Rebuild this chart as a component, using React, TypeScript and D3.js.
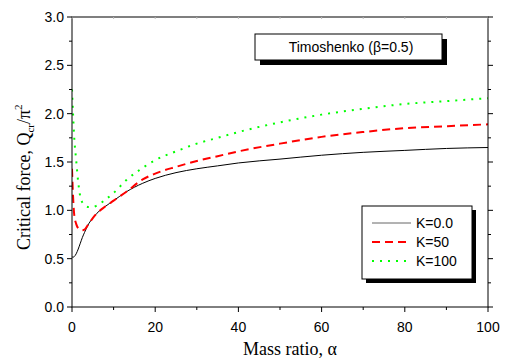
import React from "react";
import * as d3 from "d3";

// mass ratio samples
const alpha = [0, 0.25, 0.5, 1, 1.5, 2, 2.5, 3, 4, 5, 6, 8, 10, 13, 17, 20, 25, 30, 35, 40, 50, 60, 70, 80, 90, 100];

const k0 = [0.52, 0.515, 0.52, 0.55, 0.6, 0.66, 0.72, 0.77, 0.86, 0.92, 0.97, 1.04, 1.1, 1.19, 1.28, 1.33, 1.39, 1.43, 1.46, 1.49, 1.53, 1.57, 1.6, 1.62, 1.64, 1.65];
const k50 = [1.43, 1.15, 0.97, 0.86, 0.815, 0.8, 0.795, 0.8, 0.86, 0.92, 0.97, 1.04, 1.1, 1.19, 1.32, 1.38, 1.45, 1.51, 1.56, 1.61, 1.69, 1.76, 1.81, 1.85, 1.87, 1.89];
const k100 = [2.25, 2.0, 1.78, 1.52, 1.29, 1.14, 1.08, 1.05, 1.035, 1.035, 1.05, 1.11, 1.18, 1.31, 1.44, 1.52, 1.61, 1.69, 1.75, 1.81, 1.91, 1.99, 2.05, 2.1, 2.13, 2.16];

const seriesNames = ["K=0.0", "K=50", "K=100"];
const xTicks = [0, 20, 40, 60, 80, 100];
const yTicks = [0, 0.5, 1, 1.5, 2, 2.5, 3];

const styles = [
    { color: "#000000", dash: "none", width: 1 },
    { color: "#ff0000", dash: "8,5", width: 2 },
    { color: "#00ff00", dash: "2,6", width: 2 },
];

const App = () => {
    const left = 72, right = 488, top = 17, bottom = 307;
    const x = d3.scaleLinear().domain([0, 100]).range([left, right]);
    const y = d3.scaleLinear().domain([0, 3]).range([bottom, top]);

    const line = d3.line<number>()
        .x((_, i) => x(alpha[i]))
        .y(d => y(d))
        .curve(d3.curveMonotoneX);

    const series = [k0, k50, k100];
    const xMinor = d3.range(0, 101, 10);
    const yMinor = d3.range(0, 3.01, 0.25);
    const sans = "'Liberation Sans', Arial, sans-serif";
    const serif = "'Liberation Serif', 'Times New Roman', serif";

    return (
        <svg width={505} height={360} style={{ position: "absolute", left: 0, top: 0, background: "white" }}>
            <defs>
                <clipPath id="plot">
                    <rect x={left} y={top} width={right - left} height={bottom - top} />
                </clipPath>
            </defs>

            {/* curves */}
            <g clipPath="url(#plot)">
                {series.map((s, i) => (
                    <path key={i} d={line(s) || ""} fill="none"
                        stroke={styles[i].color} strokeWidth={styles[i].width}
                        strokeDasharray={styles[i].dash} />
                ))}
            </g>

            {/* frame */}
            <rect x={left} y={top} width={right - left} height={bottom - top} fill="none" stroke="#000" strokeWidth={1} />

            {/* x ticks */}
            {xMinor.map(t => {
                const major = t % 20 === 0;
                return (
                    <g key={"x" + t}>
                        <line x1={x(t)} x2={x(t)} y1={bottom} y2={bottom + (major ? 5 : 3)} stroke="#000" />
                        <line x1={x(t)} x2={x(t)} y1={top} y2={top + 2} stroke="#bbb" />
                    </g>
                );
            })}
            {xTicks.map(t => (
                <text key={"xl" + t} x={x(t)} y={bottom + 25} textAnchor="middle"
                    fontFamily={sans} fontSize={14} fill="#000">{t}</text>
            ))}

            {/* y ticks */}
            {yMinor.map(t => {
                const major = Math.abs(t * 2 - Math.round(t * 2)) < 1e-6;
                return (
                    <g key={"y" + t}>
                        <line x1={left} x2={left - (major ? 5 : 3)} y1={y(t)} y2={y(t)} stroke="#000" />
                        <line x1={right} x2={right + (major ? 5 : 3)} y1={y(t)} y2={y(t)} stroke="#000" />
                    </g>
                );
            })}
            {yTicks.map(t => (
                <text key={"yl" + t} x={left - 8} y={y(t) + 5} textAnchor="end"
                    fontFamily={sans} fontSize={14} fill="#000">{t.toFixed(1)}</text>
            ))}

            {/* axis titles */}
            <text x={290} y={355} textAnchor="middle" fontFamily={serif} fontSize={18} fill="#000">Mass ratio, α</text>
            <text transform="translate(30,250) rotate(-90)" textAnchor="start"
                fontFamily={serif} fontSize={18} fill="#000">
                Critical force, Q<tspan fontSize={11} dy={4}>cr</tspan><tspan dy={-4}>/π</tspan><tspan fontSize={11} dy={-8}>2</tspan>
            </text>

            {/* title box */}
            <rect x={260} y={39} width={187} height={26} fill="#000" />
            <rect x={255} y={34} width={187} height={26} fill="#fff" stroke="#000" />
            <text x={351} y={52} textAnchor="middle" fontFamily={sans} fontSize={14} fill="#000">Timoshenko (β=0.5)</text>

            {/* legend */}
            <rect x={366} y={210} width={110} height={73} fill="#000" />
            <rect x={362} y={206} width={110} height={73} fill="#fff" stroke="#000" />
            {seriesNames.map((name, i) => {
                const ly = 223 + i * 19;
                return (
                    <g key={name}>
                        <line x1={372} x2={411} y1={ly} y2={ly} stroke={i === 0 ? "#666" : styles[i].color}
                            strokeWidth={styles[i].width} strokeDasharray={styles[i].dash} />
                        <text x={416} y={ly + 5} fontFamily={sans} fontSize={14} fill="#000">{name}</text>
                    </g>
                );
            })}
        </svg>
    );
};

export default App;
